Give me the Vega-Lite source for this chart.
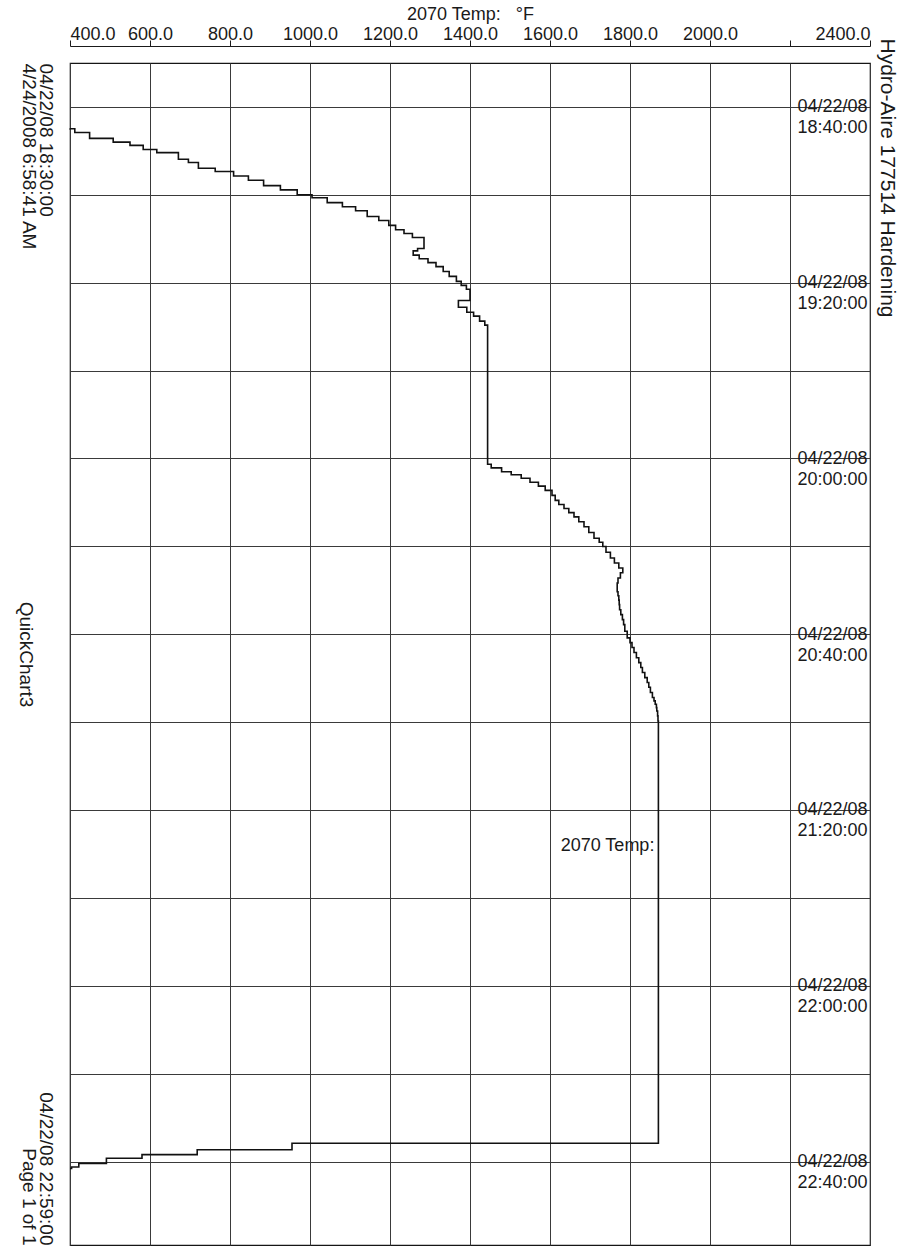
{
  "$schema": "https://vega.github.io/schema/vega-lite/v6.json",
  "width": 800,
  "height": 1182,
  "autosize": {"type": "none"},
  "padding": {"left": 70, "top": 63, "right": 29, "bottom": 6},
  "background": "white",
  "config": {
    "font": "Liberation Sans",
    "view": {"stroke": "#151515", "strokeWidth": 1.2}
  },
  "data": {
    "values": [
      {"time": "2008-04-22T18:44:56", "temp": 400},
      {"time": "2008-04-22T18:44:58", "temp": 412},
      {"time": "2008-04-22T18:45:50", "temp": 449},
      {"time": "2008-04-22T18:47:09", "temp": 508},
      {"time": "2008-04-22T18:48:01", "temp": 550},
      {"time": "2008-04-22T18:48:45", "temp": 583},
      {"time": "2008-04-22T18:49:42", "temp": 617},
      {"time": "2008-04-22T18:50:24", "temp": 671},
      {"time": "2008-04-22T18:51:54", "temp": 696},
      {"time": "2008-04-22T18:52:38", "temp": 721},
      {"time": "2008-04-22T18:53:58", "temp": 763},
      {"time": "2008-04-22T18:54:41", "temp": 809},
      {"time": "2008-04-22T18:55:42", "temp": 846},
      {"time": "2008-04-22T18:56:40", "temp": 884},
      {"time": "2008-04-22T18:57:54", "temp": 926},
      {"time": "2008-04-22T18:58:52", "temp": 968},
      {"time": "2008-04-22T18:59:58", "temp": 1005},
      {"time": "2008-04-22T19:00:41", "temp": 1043},
      {"time": "2008-04-22T19:01:47", "temp": 1081},
      {"time": "2008-04-22T19:02:43", "temp": 1114},
      {"time": "2008-04-22T19:03:37", "temp": 1143},
      {"time": "2008-04-22T19:04:56", "temp": 1172},
      {"time": "2008-04-22T19:05:50", "temp": 1197},
      {"time": "2008-04-22T19:06:57", "temp": 1214},
      {"time": "2008-04-22T19:07:56", "temp": 1235},
      {"time": "2008-04-22T19:08:49", "temp": 1256},
      {"time": "2008-04-22T19:09:42", "temp": 1285},
      {"time": "2008-04-22T19:12:13", "temp": 1269},
      {"time": "2008-04-22T19:12:45", "temp": 1258},
      {"time": "2008-04-22T19:13:43", "temp": 1273},
      {"time": "2008-04-22T19:14:33", "temp": 1295},
      {"time": "2008-04-22T19:15:26", "temp": 1315},
      {"time": "2008-04-22T19:16:20", "temp": 1333},
      {"time": "2008-04-22T19:17:27", "temp": 1348},
      {"time": "2008-04-22T19:18:34", "temp": 1366},
      {"time": "2008-04-22T19:19:42", "temp": 1378},
      {"time": "2008-04-22T19:20:36", "temp": 1391},
      {"time": "2008-04-22T19:21:30", "temp": 1400},
      {"time": "2008-04-22T19:24:02", "temp": 1371},
      {"time": "2008-04-22T19:25:36", "temp": 1392},
      {"time": "2008-04-22T19:26:43", "temp": 1409},
      {"time": "2008-04-22T19:27:37", "temp": 1424},
      {"time": "2008-04-22T19:28:44", "temp": 1437},
      {"time": "2008-04-22T19:29:39", "temp": 1444},
      {"time": "2008-04-22T20:01:20", "temp": 1453},
      {"time": "2008-04-22T20:02:09", "temp": 1479},
      {"time": "2008-04-22T20:03:02", "temp": 1503},
      {"time": "2008-04-22T20:03:42", "temp": 1528},
      {"time": "2008-04-22T20:04:31", "temp": 1550},
      {"time": "2008-04-22T20:05:25", "temp": 1571},
      {"time": "2008-04-22T20:06:18", "temp": 1588},
      {"time": "2008-04-22T20:07:16", "temp": 1605},
      {"time": "2008-04-22T20:08:24", "temp": 1613},
      {"time": "2008-04-22T20:09:32", "temp": 1622},
      {"time": "2008-04-22T20:10:28", "temp": 1635},
      {"time": "2008-04-22T20:11:23", "temp": 1647},
      {"time": "2008-04-22T20:12:20", "temp": 1660},
      {"time": "2008-04-22T20:13:17", "temp": 1672},
      {"time": "2008-04-22T20:14:25", "temp": 1685},
      {"time": "2008-04-22T20:15:32", "temp": 1697},
      {"time": "2008-04-22T20:16:50", "temp": 1710},
      {"time": "2008-04-22T20:18:09", "temp": 1723},
      {"time": "2008-04-22T20:19:05", "temp": 1732},
      {"time": "2008-04-22T20:20:02", "temp": 1740},
      {"time": "2008-04-22T20:21:20", "temp": 1751},
      {"time": "2008-04-22T20:22:40", "temp": 1761},
      {"time": "2008-04-22T20:23:48", "temp": 1772},
      {"time": "2008-04-22T20:24:55", "temp": 1782},
      {"time": "2008-04-22T20:26:00", "temp": 1776},
      {"time": "2008-04-22T20:27:12", "temp": 1770},
      {"time": "2008-04-22T20:28:20", "temp": 1768},
      {"time": "2008-04-22T20:29:29", "temp": 1768},
      {"time": "2008-04-22T20:30:20", "temp": 1770},
      {"time": "2008-04-22T20:31:14", "temp": 1772},
      {"time": "2008-04-22T20:32:15", "temp": 1773},
      {"time": "2008-04-22T20:33:16", "temp": 1774},
      {"time": "2008-04-22T20:34:25", "temp": 1777},
      {"time": "2008-04-22T20:35:32", "temp": 1781},
      {"time": "2008-04-22T20:36:40", "temp": 1784},
      {"time": "2008-04-22T20:37:49", "temp": 1787},
      {"time": "2008-04-22T20:39:20", "temp": 1793},
      {"time": "2008-04-22T20:40:50", "temp": 1800},
      {"time": "2008-04-22T20:41:55", "temp": 1805},
      {"time": "2008-04-22T20:43:01", "temp": 1810},
      {"time": "2008-04-22T20:44:10", "temp": 1816},
      {"time": "2008-04-22T20:45:21", "temp": 1822},
      {"time": "2008-04-22T20:46:28", "temp": 1827},
      {"time": "2008-04-22T20:47:34", "temp": 1831},
      {"time": "2008-04-22T20:48:43", "temp": 1837},
      {"time": "2008-04-22T20:49:53", "temp": 1843},
      {"time": "2008-04-22T20:51:00", "temp": 1847},
      {"time": "2008-04-22T20:52:05", "temp": 1851},
      {"time": "2008-04-22T20:53:15", "temp": 1856},
      {"time": "2008-04-22T20:54:25", "temp": 1860},
      {"time": "2008-04-22T20:55:10", "temp": 1863},
      {"time": "2008-04-22T20:55:56", "temp": 1866},
      {"time": "2008-04-22T20:56:42", "temp": 1867},
      {"time": "2008-04-22T20:57:28", "temp": 1869},
      {"time": "2008-04-22T20:58:35", "temp": 1870},
      {"time": "2008-04-22T20:59:44", "temp": 1871},
      {"time": "2008-04-22T21:28:15", "temp": 1871, "label": "2070 Temp:"},
      {"time": "2008-04-22T22:35:50", "temp": 955},
      {"time": "2008-04-22T22:37:19", "temp": 718},
      {"time": "2008-04-22T22:38:26", "temp": 580},
      {"time": "2008-04-22T22:39:16", "temp": 491},
      {"time": "2008-04-22T22:40:28", "temp": 422},
      {"time": "2008-04-22T22:41:14", "temp": 404},
      {"time": "2008-04-22T22:41:36", "temp": 400}
    ]
  },
  "encoding": {
    "x": {
      "field": "temp",
      "type": "quantitative",
      "scale": {"domain": [400, 2400], "nice": false, "zero": false},
      "axis": {
        "orient": "top",
        "offset": 17,
        "values": [400, 600, 800, 1000, 1200, 1400, 1600, 1800, 2000, 2200, 2400],
        "format": ".1f",
        "labelExpr": "datum.value == 2200 ? '' : datum.label",
        "labelFontSize": 18,
        "labelColor": "#1a1a1a",
        "labelPadding": -3,
        "labelFlush": true,
        "labelOverlap": false,
        "tickSize": 6,
        "tickColor": "#1a1a1a",
        "domainColor": "#1a1a1a",
        "grid": true,
        "gridColor": "#3a3a3a",
        "gridWidth": 1,
        "title": "2070 Temp:\u00a0\u00a0\u00a0°F",
        "titleFontSize": 18,
        "titleFontWeight": "normal",
        "titleColor": "#1a1a1a",
        "titlePadding": 2
      }
    }
  },
  "layer": [
    {
      "mark": {"type": "line", "interpolate": "step-before", "color": "#111111", "strokeWidth": 1.6},
      "encoding": {
        "y": {
          "field": "time",
          "type": "temporal",
          "scale": {
            "domain": [
              {"year": 2008, "month": 4, "date": 22, "hours": 18, "minutes": 30},
              {"year": 2008, "month": 4, "date": 22, "hours": 22, "minutes": 59}
            ],
            "reverse": true,
            "nice": false
          },
          "axis": {
            "orient": "left",
            "values": [
              {"year": 2008, "month": 4, "date": 22, "hours": 18, "minutes": 30},
              {"year": 2008, "month": 4, "date": 22, "hours": 20, "minutes": 44, "seconds": 30},
              {"year": 2008, "month": 4, "date": 22, "hours": 22, "minutes": 59}
            ],
            "labelExpr": "hours(datum.value) == 18 ? ['04/22/08 18:30:00', '4/24/2008 6:58:41 AM'] : hours(datum.value) == 20 ? 'QuickChart3' : ['04/22/08 22:59:00', 'Page 1 of 1']",
            "labelAngle": 90,
            "labelAlign": {
              "condition": [
                {"test": "hours(datum.value) == 18", "value": "left"},
                {"test": "hours(datum.value) == 22", "value": "right"}
              ],
              "value": "center"
            },
            "labelBaseline": "top",
            "labelPadding": {"condition": {"test": "hours(datum.value) == 20", "value": 36}, "value": 16},
            "labelFontSize": 19,
            "labelLineHeight": 17,
            "labelLimit": 0,
            "labelColor": "#1a1a1a",
            "labelOverlap": false,
            "labelBound": false,
            "labelFlush": false,
            "ticks": false,
            "tickSize": 0,
            "domain": false,
            "grid": false,
            "title": null
          }
        },
        "order": {"field": "time", "type": "temporal"}
      }
    },
    {
      "transform": [{"filter": "isValid(datum.label)"}],
      "mark": {"type": "text", "align": "right", "baseline": "middle", "dx": -4, "fontSize": 18, "color": "#1a1a1a"},
      "encoding": {
        "text": {"field": "label"},
        "y": {
          "field": "time",
          "type": "temporal",
          "scale": {
            "domain": [
              {"year": 2008, "month": 4, "date": 22, "hours": 18, "minutes": 30},
              {"year": 2008, "month": 4, "date": 22, "hours": 22, "minutes": 59}
            ],
            "reverse": true,
            "nice": false
          },
          "axis": {
            "orient": "right",
            "values": [
              {"year": 2008, "month": 4, "date": 22, "hours": 18, "minutes": 40},
              {"year": 2008, "month": 4, "date": 22, "hours": 19, "minutes": 0},
              {"year": 2008, "month": 4, "date": 22, "hours": 19, "minutes": 20},
              {"year": 2008, "month": 4, "date": 22, "hours": 19, "minutes": 40},
              {"year": 2008, "month": 4, "date": 22, "hours": 20, "minutes": 0},
              {"year": 2008, "month": 4, "date": 22, "hours": 20, "minutes": 20},
              {"year": 2008, "month": 4, "date": 22, "hours": 20, "minutes": 40},
              {"year": 2008, "month": 4, "date": 22, "hours": 21, "minutes": 0},
              {"year": 2008, "month": 4, "date": 22, "hours": 21, "minutes": 20},
              {"year": 2008, "month": 4, "date": 22, "hours": 21, "minutes": 40},
              {"year": 2008, "month": 4, "date": 22, "hours": 22, "minutes": 0},
              {"year": 2008, "month": 4, "date": 22, "hours": 22, "minutes": 20},
              {"year": 2008, "month": 4, "date": 22, "hours": 22, "minutes": 40}
            ],
            "labelExpr": "((hours(datum.value) * 60 + minutes(datum.value) - 1120) % 40 == 0) ? [timeFormat(datum.value, '%m/%d/%y'), timeFormat(datum.value, '%H:%M:%S')] : ''",
            "labelAlign": "right",
            "labelBaseline": "middle",
            "labelPadding": -3,
            "labelFontSize": 18,
            "labelLineHeight": 21,
            "labelColor": "#1a1a1a",
            "labelOverlap": false,
            "labelBound": false,
            "labelFlush": false,
            "ticks": false,
            "tickSize": 0,
            "domain": false,
            "grid": true,
            "gridColor": "#3a3a3a",
            "gridWidth": 1,
            "title": "Hydro-Aire 177514 Hardening",
            "titleAngle": 90,
            "titleFontSize": 21,
            "titleFontWeight": "normal",
            "titleColor": "#1a1a1a",
            "titleAlign": "left",
            "titleBaseline": "middle",
            "titleX": 16,
            "titleY": -25
          }
        }
      }
    }
  ],
  "resolve": {"axis": {"y": "independent"}}
}
